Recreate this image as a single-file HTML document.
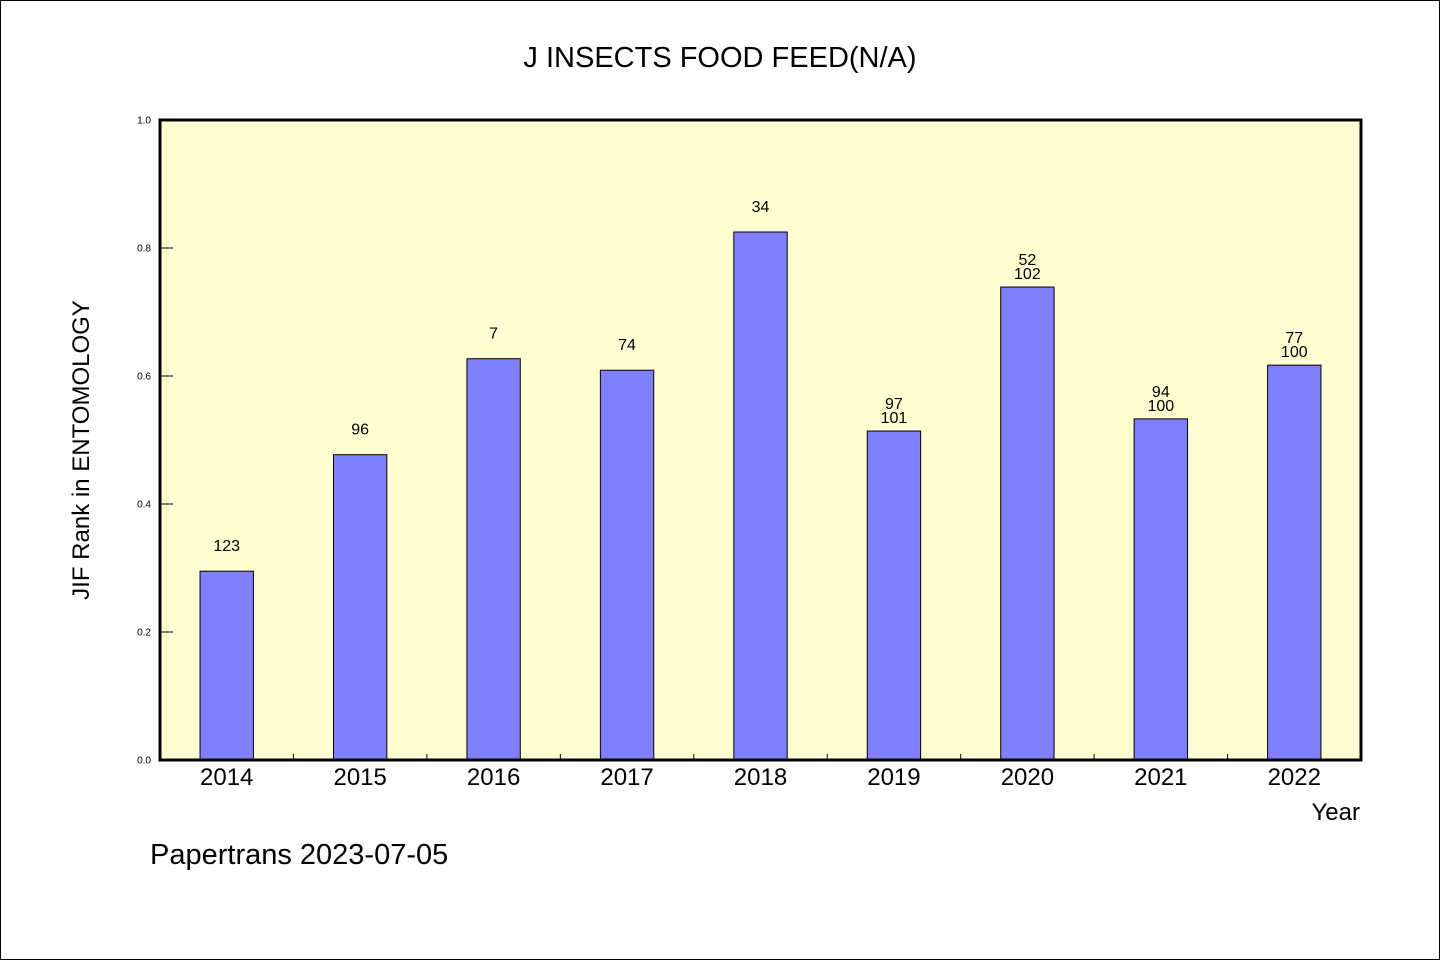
<!DOCTYPE html>
<html><head><meta charset="utf-8"><style>
html,body{margin:0;padding:0;background:#fff;}
svg{display:block;}
text{font-family:"WenQuanYi Zen Hei","Liberation Sans",sans-serif;fill:#000;}
</style></head><body>
<svg id="chart" width="1440" height="960">
<rect x="0.5" y="0.5" width="1439" height="959" fill="#fff" stroke="#000"/>
<text x="720" y="67" font-size="29" text-anchor="middle">J INSECTS FOOD FEED(N/A)</text>
<rect x="160" y="120" width="1201" height="640" fill="#ffffd2"/>
<g id="bars"></g>
<g id="ticks"></g>
<rect x="160" y="120" width="1201" height="640" fill="none" stroke="#000" stroke-width="3"/>
<text transform="translate(89,450) rotate(-90)" font-size="24" text-anchor="middle">JIF Rank in ENTOMOLOGY</text>
<text x="1360" y="820" font-size="24" text-anchor="end">Year</text>
<text x="150" y="864" font-size="29">Papertrans 2023-07-05</text>
</svg>
<script>
const years = ["2014","2015","2016","2017","2018","2019","2020","2021","2022"];
const values = [0.295,0.477,0.627,0.609,0.825,0.514,0.739,0.533,0.617];
const topLabels = ["123","96","7","74","34","97","52","94","77"];
const secondLabels = ["","","","","","101","102","100","100"];
const yTicks = [0,0.2,0.4,0.6,0.8,1.0];
const X0=160,X1=1361,Y0=760,Y1=120;
const NS="http://www.w3.org/2000/svg";
const bw=(X1-X0)/years.length;
const xs=i=>X0+bw*(i+0.5);
const ys=v=>Y0-(Y0-Y1)*v;
const bars=document.getElementById('bars'), ticks=document.getElementById('ticks');
function mk(tag,attrs,parent){const e=document.createElementNS(NS,tag);for(const k in attrs)e.setAttribute(k,attrs[k]);parent.appendChild(e);return e;}
years.forEach((y,i)=>{
  const w=bw*0.4, top=ys(values[i]);
  const r=mk('rect',{x:xs(i)-w/2,y:top,width:w,height:Y0-top,fill:'#8080ff',stroke:'#000','stroke-width':1},bars);
  
  
  const two=secondLabels[i]!=="";
  const t=mk('text',{x:xs(i),y:two?top-22:top-20,'font-size':16,'text-anchor':'middle'},bars);
  t.textContent=topLabels[i];
  
  
  if(two){
    const t2=mk('text',{x:xs(i),y:top-8,'font-size':16,'text-anchor':'middle'},bars);
    t2.textContent=secondLabels[i];
    
    
  }
  const xl=mk('text',{x:xs(i),y:785,'font-size':24,'text-anchor':'middle'},ticks);
  xl.textContent=y;
  
  
  if(i>0){
    const xt=mk('line',{x1:X0+bw*i,x2:X0+bw*i,y1:Y0,y2:Y0-6,stroke:'#000'},ticks);
    
    
  }
});
yTicks.forEach(v=>{
  const y=ys(v);
  const l=mk('line',{x1:X0,x2:X0+13,y1:y,y2:y,stroke:'#000'},ticks);
  
  
  const t=mk('text',{x:151,y:y+3.5,'font-size':10,'text-anchor':'end'},ticks);
  t.textContent=v.toFixed(1);
  
  
});
</script>
</body></html>
